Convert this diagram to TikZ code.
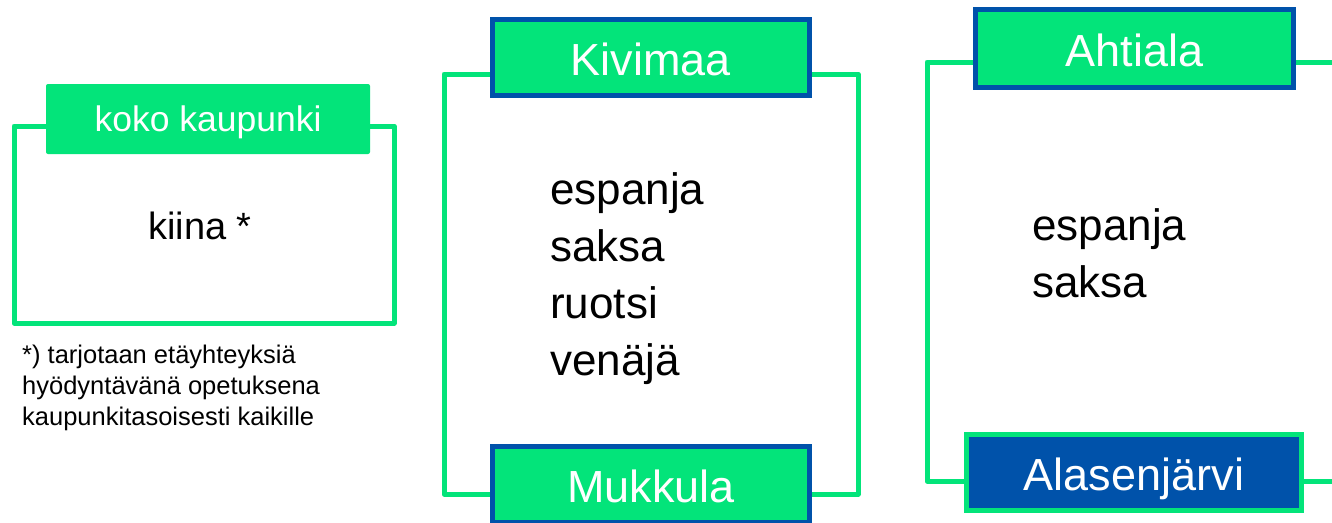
\documentclass[tikz,border=0pt]{standalone}
\usepackage{fontspec}
\setmainfont{Liberation Sans}
\definecolor{lgreen}{RGB}{3,228,122}
\definecolor{lblue}{RGB}{0,82,170}
\begin{document}
\begin{tikzpicture}[x=1pt,y=-1pt,
  frame/.style={draw=lgreen, line width=5pt, line join=round},
  hdr/.style={draw=lblue, fill=lgreen, line width=5pt, text=white, inner sep=0pt,
    minimum height=76pt, text height=35.5pt, text depth=0pt,
    font=\fontsize{45}{50}\selectfont},
  hdrblue/.style={hdr, draw=lgreen, fill=lblue},
  body/.style={anchor=base west, align=left, inner sep=0pt,
    font=\fontsize{44}{57}\selectfont},
]
\useasboundingbox (0,0) rectangle (1332,522);
\clip (0,0) rectangle (1332,522);
\fill[white] (0,0) rectangle (1332,522);
% frames
\draw[frame] (14,126) rectangle (394,323);
\draw[frame] (444,74) rectangle (858,494);
\draw[frame] (1345,62) -- (927,62) -- (927,481) -- (1345,481);
% headers
\node[fill=lgreen, rounded corners=2pt, inner sep=0pt, minimum width=324pt, minimum height=70pt,
  text=white, text height=25.5pt, text depth=0pt, font=\fontsize{35.5}{40}\selectfont]
  (koko) at (208,119) {koko kaupunki};
\node[hdr, minimum width=317pt] (kivimaa) at (651,57.5) {Kivimaa};
\node[hdr, minimum width=317pt] (mukkula) at (651,484.5) {Mukkula};
\node[hdr, minimum width=318pt, minimum height=78pt] (ahtiala) at (1134.5,48.5) {Ahtiala};
\node[hdrblue, minimum width=335pt] (alasen) at (1134,472.5) {Alasenjärvi};
% bodies
\node[anchor=base, inner sep=0pt, font=\fontsize{38}{42}\selectfont] (kiina) at (200,239) {kiina *};
\node[body] (kivlang) at (550,375) {espanja\\saksa\\ruotsi\\venäjä};
\node[body] (ahtlang) at (1032,297) {espanja\\saksa};
\node[anchor=base west, align=left, inner sep=0pt, font=\fontsize{25.5}{31}\selectfont] (note) at (22,425)
  {*) tarjotaan etäyhteyksiä\\hyödyntävänä opetuksena\\kaupunkitasoisesti kaikille};
\end{tikzpicture}
\end{document}
